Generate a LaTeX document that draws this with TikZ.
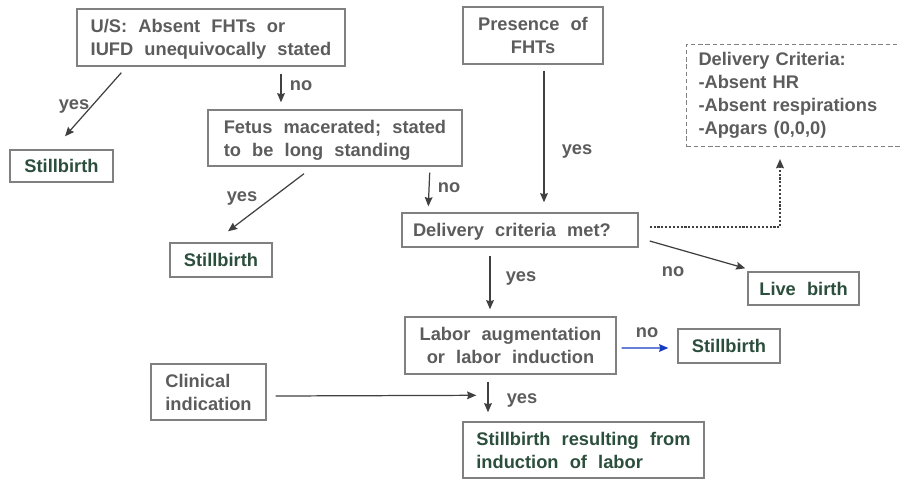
\documentclass[tikz,border=0pt]{standalone}
\usepackage{fontspec}
\setmainfont{Liberation Sans}[WordSpace=2.2]
\usepackage{tikz}
\usetikzlibrary{arrows.meta,calc}
\definecolor{boxgrey}{RGB}{128,128,128}
\definecolor{textgrey}{RGB}{92,92,92}
\definecolor{linegrey}{RGB}{64,64,64}
\definecolor{sbgreen}{RGB}{44,78,60}
\definecolor{noblue}{RGB}{20,60,190}

\begin{document}
\begin{tikzpicture}[
    x=0.02cm, y=-0.02cm,
    sz/.style 2 args={minimum width=#1*0.02cm, minimum height=#2*0.02cm},
    box/.style={rectangle, draw=boxgrey, line width=0.8pt, inner sep=0pt, text depth=0pt, text=textgrey,
        font=\fontsize{10.4}{13}\selectfont\bfseries},
    sbbox/.style={box, text=sbgreen},
    lbl/.style={inner sep=0pt, text=textgrey, font=\fontsize{10.4}{12}\selectfont\bfseries},
    conn/.style={->, linegrey, line width=0.7pt},
    >={Stealth[length=5.2pt, width=4.4pt, inset=0.6pt]},
]
    \useasboundingbox (0,0) rectangle (900,481);
    \node[box, sz={268}{57}, align=left] (us) at (211,37.5) {U/S: Absent FHTs or\\IUFD unequivocally stated};
    \node[sbbox, sz={103}{32}] (sb1) at (61.5,166) {Stillbirth};
    \node[box, sz={254}{56}, align=left] (fetus) at (335,138) {Fetus macerated; stated\\to be long standing};
    \node[box, sz={140}{57}, align=center] (fhts) at (533,35.5) {Presence of\\FHTs};
    \node[box, text depth={}, line width=0.6pt, dash pattern=on 2.5pt off 1.6pt, anchor=north west, sz={220}{102},
        inner xsep=12*0.02cm, text width=3.92cm, align=left] (crit) at (686,44)
        {Delivery Criteria:\\-Absent HR\\-Absent respirations\\-Apgars (0,0,0)};
    \node[box, sz={236}{34}, inner xsep=11*0.02cm, text width=4.28cm, align=left] (met) at (520,230)
        {\spaceskip=6.3pt plus 1pt\relax Delivery criteria met?};
    \node[sbbox, sz={102}{34}] (sb2) at (221,260) {Stillbirth};
    \node[sbbox, sz={111}{33}] (live) at (803.5,288.5) {Live birth};
    \node[box, sz={211}{57}, align=center] (labor) at (510.5,345.5) {Labor augmentation\\or labor induction};
    \node[sbbox, sz={102}{34}] (sb3) at (729,346) {Stillbirth};
    \node[box, sz={115}{56}, align=left] (clin) at (208.5,392) {Clinical\\indication};
    \node[sbbox, sz={241}{56}, align=left] (res) at (583.5,450) {Stillbirth resulting from\\induction of labor};

    \draw[conn] ($(us.south west)+(45,6)$) -- ($(sb1.north)+(3.5,-13)$);
    \draw[conn] ($(us.south)+(70,7)$) -- ($(fetus.north)+(-54,-7)$);
    \draw[conn] ($(fetus.south)+(-31,7)$) -- ($(sb2.north)+(7,-11)$);
    \draw[conn] ($(fetus.south east)+(-33,6)$) -- ($(met.north west)+(27,-6)$);
    \draw[conn] ($(fhts.south)+(11,6)$) -- ($(met.north)+(24,-10)$);
    \draw[conn, line width=1.2pt, dash pattern=on 1.2pt off 1pt] ($(met.east)+(11,-3)$) -| ($(crit.south west)+(94,12)$);
    \draw[conn] ($(met.east)+(11,11)$) -- ($(live.north west)+(-2,-3)$);
    \draw[conn] ($(met.south)+(-30,8)$) -- ($(labor.north)+(-20.5,-7)$);
    \draw[conn, noblue] ($(labor.east)+(5,2.5)$) -- ($(sb3.west)+(-9,2)$);
    \draw[conn] ($(labor.south)+(-22.5,7)$) -- ($(res.north)+(-95.5,-9)$);
    \draw[conn] ($(clin.east)+(9,4)$) -- ($(res.north west)+(14,-26)$);

    \node[lbl] at (74,106) {yes};
    \node[lbl] at (301,86) {no};
    \node[lbl] at (242,198) {yes};
    \node[lbl] at (449,188) {no};
    \node[lbl] at (577,151) {yes};
    \node[lbl] at (673,272) {no};
    \node[lbl] at (521,278) {yes};
    \node[lbl] at (647,333) {no};
    \node[lbl] at (522,400) {yes};
\end{tikzpicture}
\end{document}
